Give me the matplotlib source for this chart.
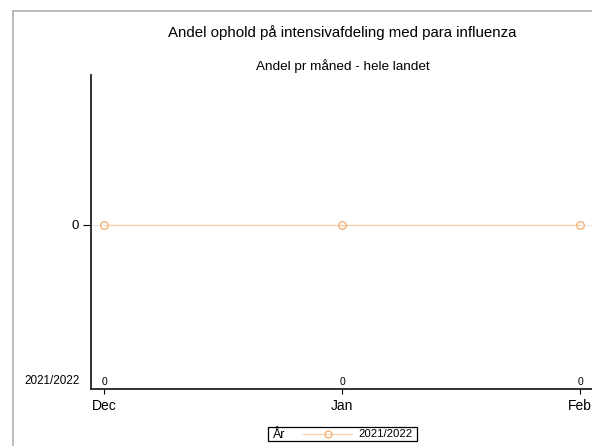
import matplotlib
matplotlib.use("Agg")
import matplotlib.pyplot as plt
from matplotlib.patches import Rectangle
from matplotlib.lines import Line2D

plt.rcParams['font.family'] = ['Liberation Sans', 'DejaVu Sans']

months = ['Dec', 'Jan', 'Feb']
values = [0, 0, 0]
counts = ['0', '0', '0']
series_label = '2021/2022'
title = 'Andel ophold på intensivafdeling med para influenza'
subtitle = 'Andel pr måned - hele landet'

W, H = 592, 446
fig = plt.figure(figsize=(W/100, H/100), dpi=100)

# outer gray frame (cropped)
fig.add_artist(Line2D([13/W, 13/W], [0, 1-11/H], color='#b0b0b0', lw=1.2))
fig.add_artist(Line2D([13/W, 1], [1-11/H, 1-11/H], color='#b0b0b0', lw=1.2))

ax_l, ax_r, ax_t, ax_b = 91, 592, 75, 389
ax = fig.add_axes([ax_l/W, 1-ax_b/H, (ax_r-ax_l)/W, (ax_b-ax_t)/H])

x = list(range(len(months)))
ax.axhline(0, color='#e6e6e6', lw=0.8, zorder=1)
ax.plot(x, values, color='#f9d2ab', lw=0.9, marker='o', ms=5.5,
        mfc='none', mec='#f3ad6b', mew=0.9, zorder=3, clip_on=False)

# x from pixel positions: Dec at 104, Jan at 342
ppu = 342-104
ax.set_xlim((ax_l-104)/ppu, (ax_r-104)/ppu)
ax.set_ylim(-(ax_b-225)/(225-ax_t), 1)

ax.set_xticks(x)
ax.set_xticklabels(months, fontsize=10)
ax.set_yticks([0])
ax.set_yticklabels(['0'], fontsize=9.5)
ax.tick_params(axis='x', length=3.5, width=0.8, color='black', pad=3.5)
ax.tick_params(axis='y', length=5.5, width=0.8, color='black', pad=3)

for s in ['top', 'right']:
    ax.spines[s].set_visible(False)
for s in ['left', 'bottom']:
    ax.spines[s].set_linewidth(1.3)
    ax.spines[s].set_color('#222222')

# count labels above x ticks
for xi, c in zip(x, counts):
    ax.annotate(c, (xi, 0), xycoords=('data', 'axes fraction'),
                xytext=(0, 1.5), textcoords='offset points',
                ha='center', va='bottom', fontsize=7.5)
ax.annotate(series_label, (0, 0), xycoords='axes fraction',
            xytext=(-8, 1.5), textcoords='offset points',
            ha='right', va='bottom', fontsize=8.4)

fig.text(342/W, 1-33/H, title, ha='center', va='center', fontsize=10.8)
fig.text(343/W, 1-66/H, subtitle, ha='center', va='center', fontsize=9.7)

# legend box
lx0, lx1, ly0, ly1 = 268, 417, 427, 441
fig.add_artist(Rectangle((lx0/W, 1-ly1/H), (lx1-lx0)/W, (ly1-ly0)/H,
                         fill=False, ec='black', lw=0.9))
fig.text(273/W, 1-434.5/H, 'År', ha='left', va='center', fontsize=9)
fig.add_artist(Line2D([303/W, 352/W], [1-433.5/H]*2, color='#f9d2ab', lw=0.9))
fig.add_artist(Line2D([328/W], [1-433.5/H], marker='o', ms=5, mfc='none',
                      mec='#f3ad6b', mew=0.9, lw=0))
fig.text(358/W, 1-434/H, series_label, ha='left', va='center', fontsize=8.2)

fig.savefig('out.png', dpi=100)
